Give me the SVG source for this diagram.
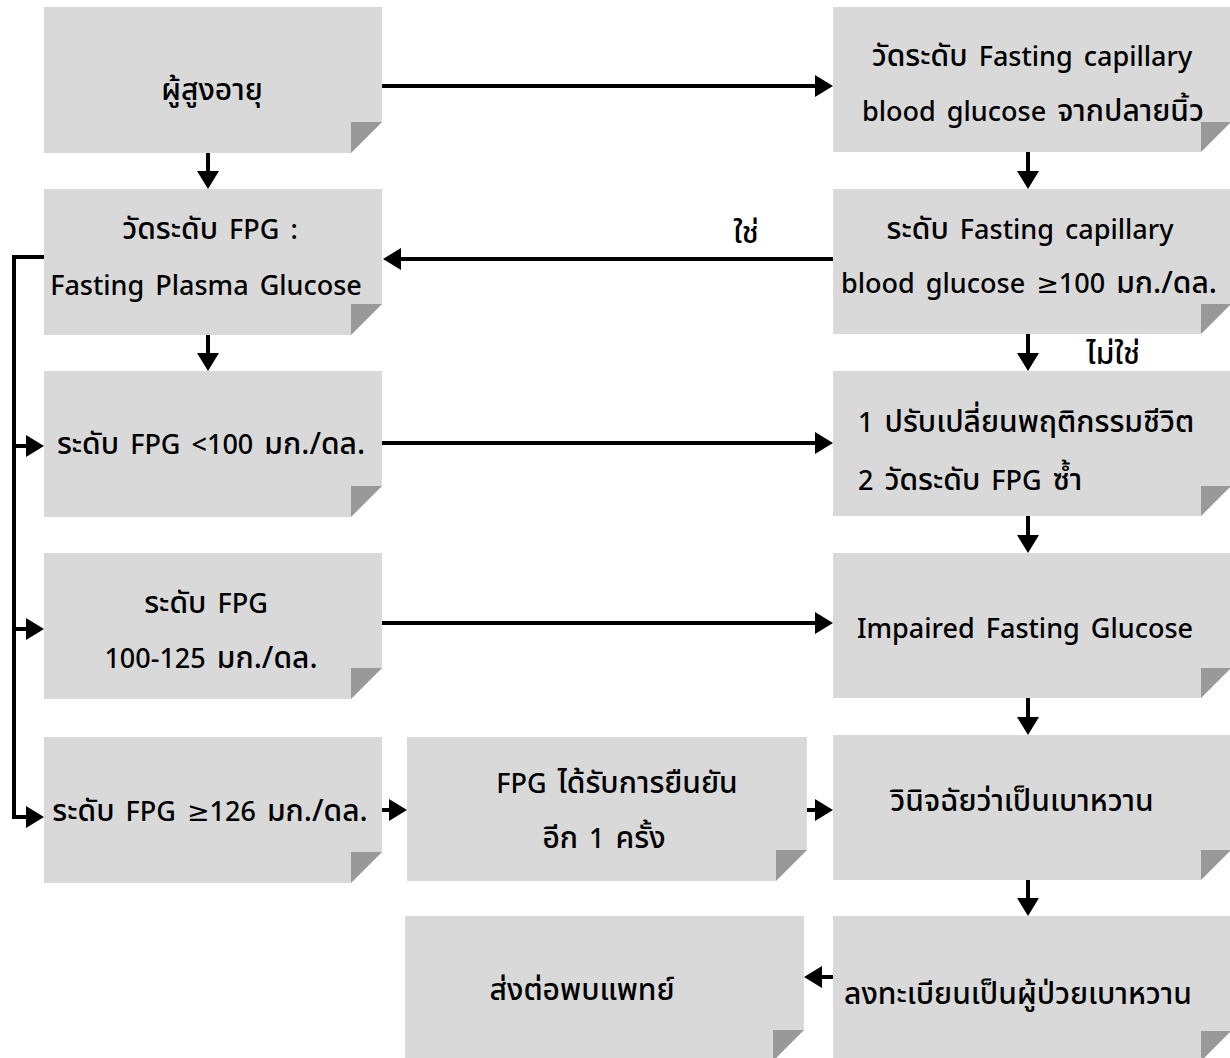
<svg xmlns="http://www.w3.org/2000/svg" width="1230" height="1058" viewBox="0 0 1230 1058">
<style>
.box{fill:#d9d9d9}
.fold{fill:#999999}
text{font-family:"Noto Sans","Noto Sans Thai","DejaVu Sans",sans-serif;font-size:27px;font-weight:500;fill:#000;word-spacing:4px}
.th{font-size:30px}
.c{text-anchor:middle}
.con{fill:none;stroke:#000;stroke-width:4;marker-end:url(#ah)}
.ln{fill:none;stroke:#000;stroke-width:4}
</style>
<defs>
<marker id="ah" markerUnits="userSpaceOnUse" markerWidth="18" markerHeight="22" refX="4" refY="11" orient="auto" overflow="visible">
<path d="M0,0 L18,11 L0,22 Z" fill="#000"/>
</marker>
</defs>
<rect width="1230" height="1058" fill="#fff"/>

<g id="n-elderly">
<path class="box" d="M44 7 H382 V122 L351 153 H44 Z"/><path class="fold" d="M351 122 H382 L351 153 Z"/>
<text class="c th" x="212" y="100">ผู้สูงอายุ</text>
</g>
<g id="n-fpg">
<path class="box" d="M44 189 H382 V304 L351 335 H44 Z"/><path class="fold" d="M351 304 H382 L351 335 Z"/>
<text class="c" x="210" y="239"><tspan class="th">วัดระดับ</tspan> FPG :</text>
<text class="c" x="206" y="295">Fasting Plasma Glucose</text>
</g>
<g id="n-lt100">
<path class="box" d="M44 371 H382 V486 L351 517 H44 Z"/><path class="fold" d="M351 486 H382 L351 517 Z"/>
<text class="c" x="211" y="454"><tspan class="th">ระดับ</tspan> FPG &lt;100 <tspan class="th">มก./ดล.</tspan></text>
</g>
<g id="n-100-125">
<path class="box" d="M44 553 H382 V668 L351 699 H44 Z"/><path class="fold" d="M351 668 H382 L351 699 Z"/>
<text class="c" x="206" y="613"><tspan class="th">ระดับ</tspan> FPG</text>
<text class="c" x="211" y="668">100-125 <tspan class="th">มก./ดล.</tspan></text>
</g>
<g id="n-ge126">
<path class="box" d="M44 737 H382 V852 L351 883 H44 Z"/><path class="fold" d="M351 852 H382 L351 883 Z"/>
<text class="c" x="210" y="821"><tspan class="th">ระดับ</tspan> FPG ≥126 <tspan class="th">มก./ดล.</tspan></text>
</g>
<g id="n-confirm">
<path class="box" d="M407 737 H807 V850 L776 881 H407 Z"/><path class="fold" d="M776 850 H807 L776 881 Z"/>
<text class="c" x="617" y="793">FPG <tspan class="th">ได้รับการยืนยัน</tspan></text>
<text class="c" x="604" y="848"><tspan class="th">อีก</tspan> 1 <tspan class="th">ครั้ง</tspan></text>
</g>
<g id="n-refer">
<path class="box" d="M405 916 H804 V1030 L773 1061 H405 Z"/><path class="fold" d="M773 1030 H804 L773 1061 Z"/>
<text class="c th" x="582" y="1000">ส่งต่อพบแพทย์</text>
</g>
<g id="n-cap">
<path class="box" d="M833 7 H1231 V122 L1201 152 H833 Z"/><path class="fold" d="M1201 122 H1231 L1201 152 Z"/>
<text class="c" x="1032" y="66"><tspan class="th">วัดระดับ</tspan> Fasting capillary</text>
<text class="c" x="1033" y="121">blood glucose <tspan class="th">จากปลายนิ้ว</tspan></text>
</g>
<g id="n-cap100">
<path class="box" d="M833 189 H1231 V304 L1201 334 H833 Z"/><path class="fold" d="M1201 304 H1231 L1201 334 Z"/>
<text class="c" x="1030" y="239"><tspan class="th">ระดับ</tspan> Fasting capillary</text>
<text class="c" x="1029" y="293">blood glucose ≥100 <tspan class="th">มก./ดล.</tspan></text>
</g>
<g id="n-lifestyle">
<path class="box" d="M833 371 H1231 V486 L1201 516 H833 Z"/><path class="fold" d="M1201 486 H1231 L1201 516 Z"/>
<text x="858" y="432">1 <tspan class="th">ปรับเปลี่ยนพฤติกรรมชีวิต</tspan></text>
<text x="858" y="490">2 <tspan class="th">วัดระดับ</tspan> FPG <tspan class="th">ซ้ำ</tspan></text>
</g>
<g id="n-ifg">
<path class="box" d="M833 553 H1231 V668 L1201 698 H833 Z"/><path class="fold" d="M1201 668 H1231 L1201 698 Z"/>
<text class="c" x="1025" y="638">Impaired Fasting Glucose</text>
</g>
<g id="n-dm">
<path class="box" d="M833 735 H1231 V850 L1201 880 H833 Z"/><path class="fold" d="M1201 850 H1231 L1201 880 Z"/>
<text class="c th" x="1022" y="811">วินิจฉัยว่าเป็นเบาหวาน</text>
</g>
<g id="n-register">
<path class="box" d="M833 916 H1231 V1031 L1201 1061 H833 Z"/><path class="fold" d="M1201 1031 H1231 L1201 1061 Z"/>
<text class="c th" x="1018" y="1004">ลงทะเบียนเป็นผู้ป่วยเบาหวาน</text>
</g>

<g id="connectors">
<path class="con" d="M382 86 H819"/>
<path class="con" d="M208 153 V175"/>
<path class="con" d="M1028 152 V175"/>
<path class="con" d="M833 259 H397"/>
<path class="con" d="M1028 334 V357"/>
<path class="con" d="M208 335 V357"/>
<path class="ln" d="M44 257 H14 V817"/>
<path class="con" d="M14 446 H30"/>
<path class="con" d="M14 629 H30"/>
<path class="con" d="M12 817 H30"/>
<path class="con" d="M382 443 H819"/>
<path class="con" d="M1028 516 V539"/>
<path class="con" d="M382 623 H819"/>
<path class="con" d="M1028 698 V721"/>
<path class="con" d="M382 810 H393"/>
<path class="con" d="M807 810 H819"/>
<path class="con" d="M1028 880 V902"/>
<path class="con" d="M833 977 H818"/>
<text class="c th" x="746" y="243">ใช่</text>
<text class="c th" x="1113" y="364">ไม่ใช่</text>
</g>
</svg>
